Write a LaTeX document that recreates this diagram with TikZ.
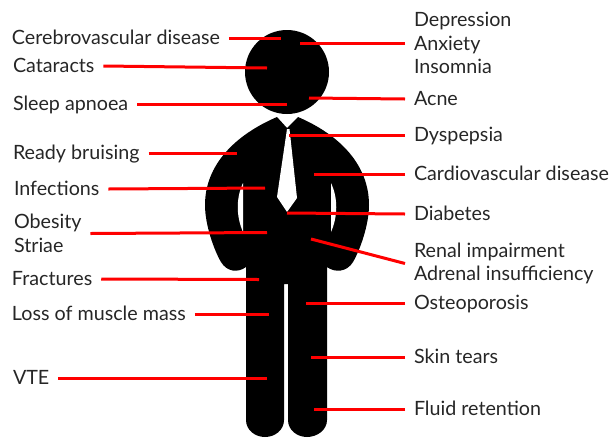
\documentclass[tikz,border=0pt]{standalone}
\usepackage{fontspec}
\setmainfont{Lato}
\usetikzlibrary{calc}
\definecolor{Wire}{HTML}{FF0000}
\tikzset{
  lbl/.style={anchor=west, inner sep=0pt, outer sep=9pt, align=left, text=black!85,
              font=\fontsize{19.7}{23.5}\selectfont},
  lblone/.style={lbl, text height=14pt, text depth=1pt},
  wire/.style={draw=Wire, line width=3pt},
  figure/.style={fill=black, draw=none},
  gap/.style={fill=white, draw=none},
}
\begin{document}
\begin{tikzpicture}[x=1pt,y=-1pt]
  \useasboundingbox (0,0) rectangle (610,437);
  % the man
  \node[figure, circle, minimum size=84pt, inner sep=0pt, outer sep=0pt] (head) at (287,72) {};
  \path[figure] (277,117) -- (287,128) -- (298,117)
    .. controls (340,135) and (369,165) .. (369,205)
    .. controls (369,225) and (360,250) .. (353,262)
    .. controls (347,272) and (335,273) .. (327,267)
    -- (327,420) .. controls (327,430) and (317,437) .. (307,437)
    .. controls (297,437) and (288,430) .. (288,420)
    -- (288,284) -- (284,284) -- (284,420)
    .. controls (284,430) and (275,437) .. (265,437)
    .. controls (255,437) and (246,430) .. (246,420)
    -- (246,267) .. controls (238,273) and (227,272) .. (221,262)
    .. controls (214,250) and (205,225) .. (205,205)
    .. controls (205,165) and (235,135) .. (277,117) -- cycle;
  % tie and the gaps beside the arms
  \path[gap] (287,129) -- (277,197) -- (287,212) -- (297,198) -- (289.5,129) -- cycle;
  \path[gap] (243,183) .. controls (236,198) and (236,216) .. (243,232) -- cycle;
  \path[gap] (331,183) .. controls (338,198) and (338,216) .. (331,232) -- cycle;
  % ends on the body
  \coordinate (cerebroEnd) at (281,38);
  \coordinate (cataractsEnd) at (267,68);
  \coordinate (sleepEnd) at (287,104);
  \coordinate (bruisingEnd) at (237,153);
  \coordinate (infectEnd) at (265,188);
  \coordinate (obesityEnd) at (267,232.5);
  \coordinate (fractureEnd) at (259,279.5);
  \coordinate (muscleEnd) at (269,314);
  \coordinate (vteEnd) at (267,378);
  \coordinate (moodEnd) at (300,43);
  \coordinate (acneEnd) at (309,98);
  \coordinate (dyspepsiaEnd) at (289,135);
  \coordinate (cardioEnd) at (314,174);
  \coordinate (diabetesEnd) at (287,213);
  \coordinate (renalEnd) at (311,239);
  \coordinate (osteoEnd) at (306,303);
  \coordinate (skinEnd) at (311,357);
  \coordinate (fluidEnd) at (314,409);
  % left labels
  \node[lblone] (cerebro) at (3,38) {Cerebrovascular disease};
  \node[lblone] (cataracts) at (4,66) {Cataracts};
  \node[lblone] (sleep) at (4,104) {Sleep apnoea};
  \node[lblone] (bruising) at (4,153) {Ready bruising};
  \node[lblone] (infect) at (5,189) {Infections};
  \node[lbl] (obesity) at (5,233.5) {Obesity\\Striae};
  \node[lblone] (fracture) at (3,279) {Fractures};
  \node[lblone] (muscle) at (3,314) {Loss of muscle mass};
  \node[lblone] (vte) at (4,378) {VTE};
  % right labels
  \node[lbl] (mood) at (405,43) {Depression\\Anxiety\\Insomnia};
  \node[lblone] (acne) at (405,99) {Acne};
  \node[lblone] (dyspepsia) at (405,135) {Dyspepsia};
  \node[lblone] (cardio) at (405,174) {Cardiovascular disease};
  \node[lblone] (diabetes) at (405,214) {Diabetes};
  \node[lbl] (renal) at (405,263.5) {Renal impairment\\Adrenal insufficiency};
  \node[lblone] (osteo) at (405,303) {Osteoporosis};
  \node[lblone] (skin) at (405,357) {Skin tears};
  \node[lblone] (fluid) at (405,409) {Fluid retention};
  % connectors
  \draw[wire] (cerebro.east) -- (cerebroEnd);
  \draw[wire] (cataracts.east) -- (cataractsEnd);
  \draw[wire] (sleep.east) -- (sleepEnd);
  \draw[wire] (bruising.east) -- (bruisingEnd);
  \draw[wire] (infect.east) -- (infectEnd);
  \draw[wire] (obesity.east) -- (obesityEnd);
  \draw[wire] (fracture.east) -- (fractureEnd);
  \draw[wire] (muscle.east) -- (muscleEnd);
  \draw[wire] (vte.east) -- (vteEnd);
  \draw[wire] (mood.west) -- (moodEnd);
  \draw[wire] (acne.west) -- (acneEnd);
  \draw[wire] (dyspepsia.west) -- (dyspepsiaEnd);
  \draw[wire] (cardio.west) -- (cardioEnd);
  \draw[wire] (diabetes.west) -- (diabetesEnd);
  \draw[wire] (renal.west) -- (renalEnd);
  \draw[wire] (osteo.west) -- (osteoEnd);
  \draw[wire] (skin.west) -- (skinEnd);
  \draw[wire] (fluid.west) -- (fluidEnd);
\end{tikzpicture}
\end{document}
